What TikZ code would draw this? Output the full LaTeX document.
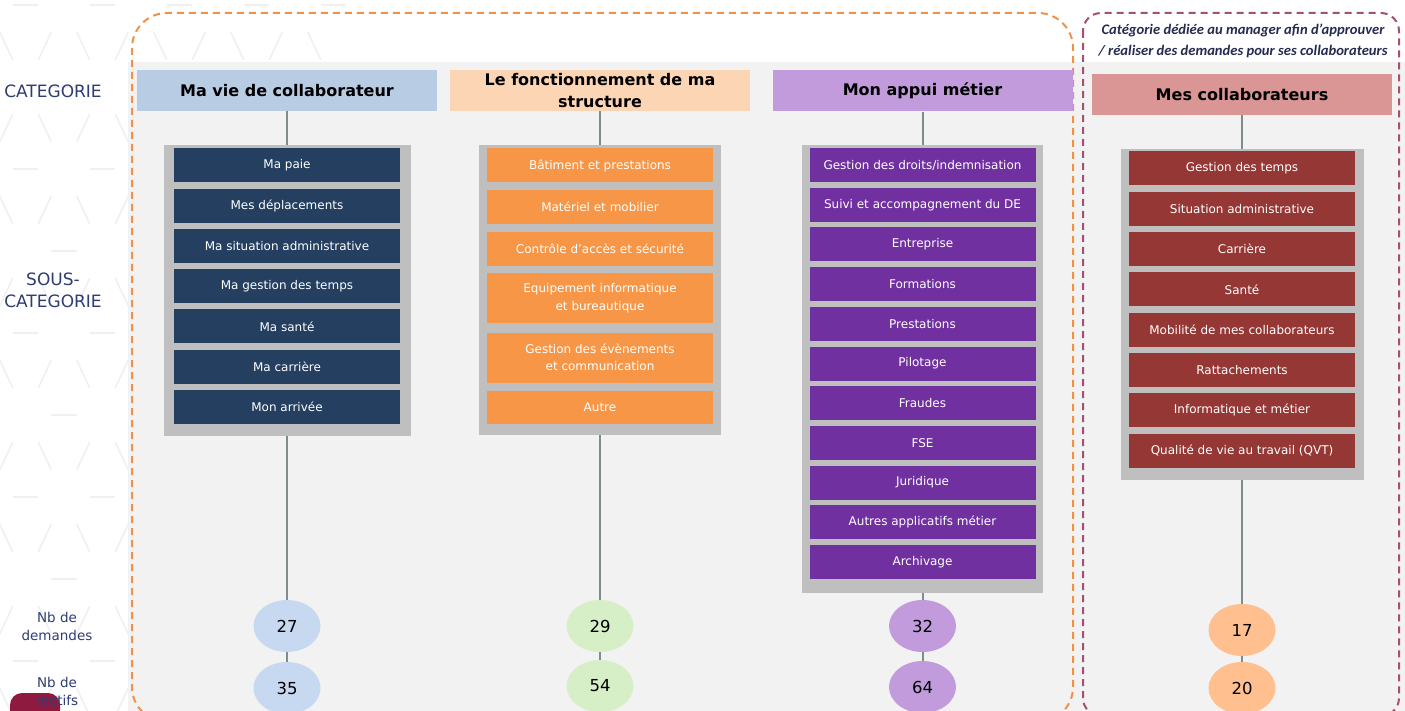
\documentclass[tikz,border=0pt]{standalone}
\usepackage{fontspec}
\setmainfont{DejaVu Sans}
\newfontfamily\notefont{Carlito}
\usetikzlibrary{shapes.geometric}
\definecolor{navy}{HTML}{243F60}
\definecolor{labelnavy}{HTML}{2F3D73}
\definecolor{notenavy}{HTML}{262B52}
\definecolor{tangerine}{HTML}{F79646}
\definecolor{plum}{HTML}{7030A0}
\definecolor{brick}{HTML}{953735}
\definecolor{hblue}{HTML}{B8CCE4}
\definecolor{hpeach}{HTML}{FCD5B5}
\definecolor{hlav}{HTML}{C29BDC}
\definecolor{hrose}{HTML}{D99694}
\definecolor{cblue}{HTML}{C6D9F1}
\definecolor{cgreen}{HTML}{D7EFC7}
\definecolor{cpeach}{HTML}{FFBF8F}
\definecolor{panelgray}{HTML}{BFBFBF}
\definecolor{bggray}{HTML}{F2F2F2}
\definecolor{linkgray}{HTML}{7F8C8D}
\definecolor{dashorange}{HTML}{F0914A}
\definecolor{dashmaroon}{HTML}{A3516F}
\definecolor{blob}{HTML}{8E1B3F}

\begin{document}
\begin{tikzpicture}[x=1pt,y=-1pt,
    catbox/.style={minimum width=300pt,minimum height=41pt,inner sep=0pt,align=center,
      font=\fontsize{16}{22}\selectfont\bfseries},
    panel/.style={fill=panelgray,inner sep=0pt},
    subcat/.style={minimum width=226pt,minimum height=34pt,inner sep=0pt,align=center,
      text=white,font=\fontsize{12}{17.5}\selectfont},
    tally/.style={ellipse,minimum width=67pt,minimum height=52pt,inner sep=0pt,
      font=\fontsize{16.5}{18}\selectfont},
    link/.style={draw=linkgray,line width=2pt},
    sidelabel/.style={text=labelnavy,align=center,inner sep=0pt},
    hexline/.style={draw=black!6,line width=1.6pt},
    boxdash/.style={line width=2pt,dash pattern=on 7pt off 5pt}]
    \path[use as bounding box,clip](0,0)rectangle(1405,711);
    \fill[white](0,0)rectangle(1405,711);
    \begin{scope}
        \clip(0,0)rectangle(345,711);
        \foreach \k in {0,...,8}
            \foreach \j in {0,...,5}{
                \pgfmathsetmacro\vx{-13+38.5*mod(\k,2)+77*\j}
                \pgfmathsetmacro\vy{5+82*\k}
                \draw[hexline](\vx+25.7,\vy)--(\vx+51.3,\vy);
                \draw[hexline](\vx+12.8,\vy+27.3)--(\vx+25.7,\vy+54.7);
                \draw[hexline](\vx-12.8,\vy+27.3)--(\vx-25.7,\vy+54.7);
            }
    \end{scope}
    \fill[bggray](128,62)rectangle(1405,711);
    \fill[blob,rounded corners=12pt](10,693)rectangle(60,735);
    \draw[boxdash,draw=dashorange,rounded corners=35pt](132,13)rectangle(1073,722);
    \draw[boxdash,draw=dashmaroon,rounded corners=18pt](1083,13)rectangle(1399,716);

    \node[sidelabel,font=\fontsize{17}{22}\selectfont](lcat)at(53,91){CATEGORIE};
    \node[sidelabel,font=\fontsize{17}{22}\selectfont](lsous)at(53,290){SOUS-\\CATEGORIE};
    \node[sidelabel,font=\fontsize{13.5}{18}\selectfont](ldem)at(57,626){Nb de\\demandes};
    \node[sidelabel,font=\fontsize{13.5}{18}\selectfont](lmot)at(57,691){Nb de\\motifs};
    \node[text=notenavy,align=center,inner sep=0pt,
        font=\notefont\bfseries\itshape\fontsize{14.6}{21}\selectfont](note)at(1243,41)
        {Catégorie dédiée au manager afin d’approuver\\/ réaliser des demandes pour ses collaborateurs};

    \node[catbox,fill=hblue](h1)at(287,90.5){Ma vie de collaborateur};
    \node[catbox,fill=hpeach](h2)at(600,90.5){Le fonctionnement de ma\\structure};
    \node[catbox,fill=hlav](h3)at(922.5,91){Mon appui métier};
    \node[catbox,fill=hrose](h4)at(1242,94.5){Mes collaborateurs};

    \node[panel,minimum width=247pt,minimum height=291pt](p1)at(287,290.5){};
    \node[panel,minimum width=242pt,minimum height=290pt](p2)at(600,290){};
    \node[panel,minimum width=241pt,minimum height=448pt](p3)at(922.5,369){};
    \node[panel,minimum width=243pt,minimum height=331pt](p4)at(1242,314.5){};

    \foreach \t[count=\i from 0] in {Ma paie,Mes déplacements,Ma situation administrative,
        Ma gestion des temps,Ma santé,Ma carrière,Mon arrivée}
        \node[subcat,fill=navy](a\i)at(287,{165.5+40.2*\i}){\t};
    \foreach \y/\h/\t[count=\i from 0] in {165.5/34/Bâtiment et prestations,
        207/34/Matériel et mobilier,249/34/Contrôle d'accès et sécurité,
        298/50/{Equipement informatique\\et bureautique},
        357.5/50/{Gestion des évènements\\et communication},407/33/Autre}
        \node[subcat,fill=tangerine,minimum height=\h pt](b\i)at(600,\y){\t};
    \foreach \t[count=\i from 0] in {{Gestion des droits/indemnisation},
        Suivi et accompagnement du DE,Entreprise,Formations,Prestations,Pilotage,
        Fraudes,FSE,Juridique,Autres applicatifs métier,Archivage}
        \node[subcat,fill=plum](c\i)at(922.5,{165+39.7*\i}){\t};
    \foreach \t[count=\i from 0] in {Gestion des temps,Situation administrative,Carrière,
        Santé,Mobilité de mes collaborateurs,Rattachements,Informatique et métier,
        Qualité de vie au travail (QVT)}
        \node[subcat,fill=brick](e\i)at(1242,{168.5+40.3*\i}){\t};

    \node[tally,fill=cblue](d1)at(287,626){27};
    \node[tally,fill=cblue](m1)at(287,688){35};
    \node[tally,fill=cgreen](d2)at(600,626){29};
    \node[tally,fill=cgreen](m2)at(600,686){54};
    \node[tally,fill=hlav](d3)at(922.5,626){32};
    \node[tally,fill=hlav](m3)at(922.5,687){64};
    \node[tally,fill=cpeach](d4)at(1242,630){17};
    \node[tally,fill=cpeach](m4)at(1242,688){20};

    \foreach \c in {1,...,4}{
        \draw[link](h\c)--(p\c);
        \draw[link](p\c)--(d\c);
        \draw[link](d\c)--(m\c);
    }
\end{tikzpicture}
\end{document}
